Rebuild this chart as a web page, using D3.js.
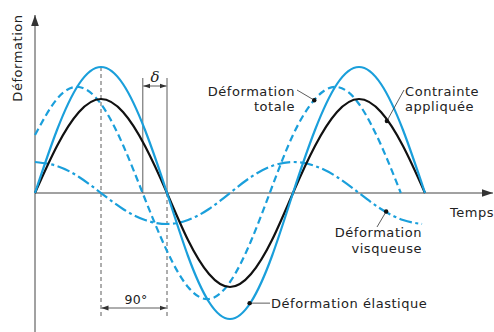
<!DOCTYPE html>
<html><head><meta charset="utf-8">
<script src="https://cdn.jsdelivr.net/npm/d3@7"></script>
<style>body{margin:0;background:#fff}svg{display:block}text{font-family:"DejaVu Sans",sans-serif;font-size:13px;letter-spacing:0.55px;fill:#222}</style>
</head><body>
<script>
// phase (degrees) sample grid
const t = [0,30,60,90,120,150,180,210,240,270,300,330,360,390,420,450,480,510,540];
const stress  = [0,.47,.81,.94,.81,.47,0,-.47,-.81,-.94,-.81,-.47,0,.47,.81,.94,.81,.47,0];
const elastic = [0,.63,1.09,1.26,1.09,.63,0,-.63,-1.09,-1.26,-1.09,-.63,0,.63,1.09,1.26,1.09,.63,0];
const tTotal  = [0,30,60,90,120,150,180,210,240,270,300,330,360,390,420,450,480,507];
const total   = [.58,.94,1.06,.89,.48,-.06,-.58,-.94,-1.06,-.89,-.48,.06,.58,.94,1.06,.89,.48,0];
const tVisc   = [0,30,60,90,120,150,180,210,240,270,300,330,360,390,420,450,480,510,536];
const viscous = [.31,.27,.16,0,-.16,-.27,-.31,-.27,-.16,0,.16,.27,.31,.27,.16,0,-.16,-.27,-.31];
const labels = {total:["Déformation","totale"], stress:["Contrainte","appliquée"], visc:["Déformation","visqueuse"], elas:"Déformation élastique", y:"Déformation", x:"Temps", delta:"δ", quarter:"90°"};

const W=494,H=332, blue="#1a9fdb";
const x = d3.scaleLinear().domain([0,180,360,540]).range([35,167,293,425]);
const y = d3.scaleLinear().domain([-1.39,1.78]).range([332,15]);
const svg = d3.select("body").append("svg").attr("width",W).attr("height",H);
const defs = svg.append("defs");
function marker(id,color,size){
  defs.append("marker").attr("id",id).attr("viewBox","0 0 10 10").attr("refX",10).attr("refY",5)
   .attr("markerWidth",size).attr("markerHeight",size).attr("orient","auto-start-reverse").attr("markerUnits","userSpaceOnUse")
   .append("path").attr("d","M0,1.5L10,5L0,8.5Z").attr("fill",color);
}
marker("ax","#333",11); marker("sm","#333",7);

const x0=x(0), y0=y(0);
// axes
svg.append("line").attr("x1",x0).attr("x2",x0).attr("y1",H).attr("y2",15).attr("stroke","#444").attr("stroke-width",1).attr("marker-end","url(#ax)");
svg.append("line").attr("x1",x0).attr("x2",493).attr("y1",y0).attr("y2",y0).attr("stroke","#444").attr("stroke-width",1).attr("marker-end","url(#ax)");

// guide lines
const g = svg.append("g").attr("stroke","#333").attr("stroke-width",0.8).attr("fill","none");
g.append("line").attr("x1",x(90)).attr("x2",x(90)).attr("y1",y(1.26)).attr("y2",316).attr("stroke-dasharray","4,3");
g.append("line").attr("x1",x(180)).attr("x2",x(180)).attr("y1",y0).attr("y2",316).attr("stroke-dasharray","4,3");
g.append("line").attr("x1",x(180)).attr("x2",x(180)).attr("y1",78).attr("y2",y0);
g.append("line").attr("x1",x(147)).attr("x2",x(147)).attr("y1",78).attr("y2",y0);
g.append("line").attr("x1",x(147)+0.5).attr("x2",x(180)-0.5).attr("y1",86).attr("y2",86).attr("marker-start","url(#sm)").attr("marker-end","url(#sm)");
g.append("line").attr("x1",x(90)+0.5).attr("x2",x(180)-0.5).attr("y1",308).attr("y2",308).attr("marker-start","url(#sm)").attr("marker-end","url(#sm)");

const line = d3.line().curve(d3.curveNatural);
function draw(ts,vs,color,dash){
  svg.append("path").attr("d",line(ts.map((d,i)=>[x(d),y(vs[i])]))).attr("fill","none")
    .attr("stroke",color).attr("stroke-width",2.2).attr("stroke-dasharray",dash||null);
}
draw(tVisc,viscous,blue,"13,3.5,3,3.5");
draw(tTotal,total,blue,"7,4");
draw(t,stress,"#111");
draw(t,elastic,blue);

// annotations: dots placed on the curves
function at(ts,vs,tt){ return [x(tt), y(d3.scaleLinear().domain(ts).range(vs)(tt))]; }
function ann(p,lx,ly){
  svg.append("line").attr("x1",p[0]).attr("y1",p[1]).attr("x2",lx).attr("y2",ly===undefined?p[1]:ly).attr("stroke","#333").attr("stroke-width",0.8);
  svg.append("circle").attr("cx",p[0]).attr("cy",p[1]).attr("r",2.2).attr("fill","#111");
}
ann(at(tTotal,total,389),297,90);
ann(at(t,stress,488),404,90);
ann(at(tVisc,viscous,487),377,227);
ann(at(t,elastic,298),270);

function txt(s,xx,yy,anchor){ return svg.append("text").attr("x",xx).attr("y",yy).attr("text-anchor",anchor||"start").text(s); }
txt(labels.total[0],295,96,"end"); txt(labels.total[1],295,111,"end");
txt(labels.stress[0],405,96); txt(labels.stress[1],405,111);
txt(labels.visc[0],422,237,"end"); txt(labels.visc[1],422,253,"end");
txt(labels.elas,271,308);
txt(labels.x,450,217);
txt(labels.quarter,136,304,"middle").style("font-size","12.5px").style("letter-spacing","0.3px");
txt(labels.delta,155,82,"middle").style("font-family","'DejaVu Serif',serif").style("font-style","italic").style("font-size","15px").style("letter-spacing","0");
svg.append("text").attr("transform","translate(22,58) rotate(-90)").attr("text-anchor","middle").text(labels.y);
</script>
</body></html>
